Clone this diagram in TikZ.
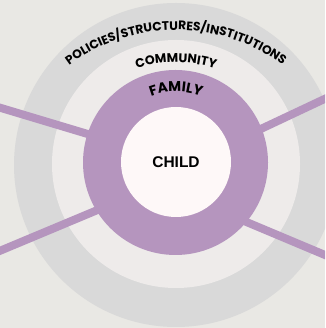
\documentclass[tikz,border=0pt]{standalone}
\usepackage{fontspec}
\setmainfont{Liberation Sans}
\newfontfamily\popfont{Poppins}
\usetikzlibrary{decorations.text}

\definecolor{bgcol}{HTML}{E9E8E4}
\definecolor{ringgray}{HTML}{D9D9D9}
\definecolor{ringlight}{HTML}{EEEBEA}
\definecolor{famcol}{HTML}{B595BE}
\definecolor{childcol}{HTML}{FEF8F8}

\begin{document}
\begin{tikzpicture}[x=1pt,y=1pt,
  ring/.style={circle,inner sep=0pt,outer sep=0pt},
  spoke/.style={draw=famcol,line width=8pt},
  arctext/.style={decorate,decoration={text along path,text align=center,text={#1}}}]
\fill[bgcol] (0,0) rectangle (325,328);
\useasboundingbox (0,0) rectangle (325,328);
\clip (0,0) rectangle (325,328);

% Rings
\node[ring,fill=ringgray,minimum size=324pt] (policies) at (176,163) {};
\node[ring,fill=ringlight,minimum size=248pt] (community) at (176,164) {};

% Spokes (behind the family ring)
\coordinate (lu) at (-5,221.8);  \coordinate (lui) at (120,184.3);
\coordinate (ru) at (330,231.6); \coordinate (rui) at (230,184.5);
\coordinate (ld) at (-5,75.1);   \coordinate (ldi) at (120,127.4);
\coordinate (rd) at (330,70.9);  \coordinate (rdi) at (230,112.9);
\draw[spoke] (lu) -- (lui);
\draw[spoke] (ru) -- (rui);
\draw[spoke] (ld) -- (ldi);
\draw[spoke] (rd) -- (rdi);

% Family and child
\node[ring,fill=famcol,minimum size=185pt] (family) at (175.5,165.5) {};
\node[ring,fill=childcol,minimum size=110pt,font=\bfseries\fontsize{15.5}{15.5}\selectfont] (child) at (176,166) {CHILD};

% Curved labels
\path[arctext={|\popfont\bfseries\fontsize{12.3}{12.3}\selectfont|POLICIES/STRUCTURES/INSTITUTIONS}]
  (176,119) ++(180:179) arc[start angle=180,end angle=0,radius=179];
\path[arctext={|\popfont\bfseries\fontsize{12.5}{12.5}\selectfont|COMMUNITY}]
  (176,130) ++(180:135.5) arc[start angle=180,end angle=0,radius=135.5];
\path[arctext={|\popfont\bfseries\fontsize{14}{14}\selectfont|FAMILY}]
  (176,169) ++(180:67.5) arc[start angle=180,end angle=0,radius=67.5];
\end{tikzpicture}
\end{document}
